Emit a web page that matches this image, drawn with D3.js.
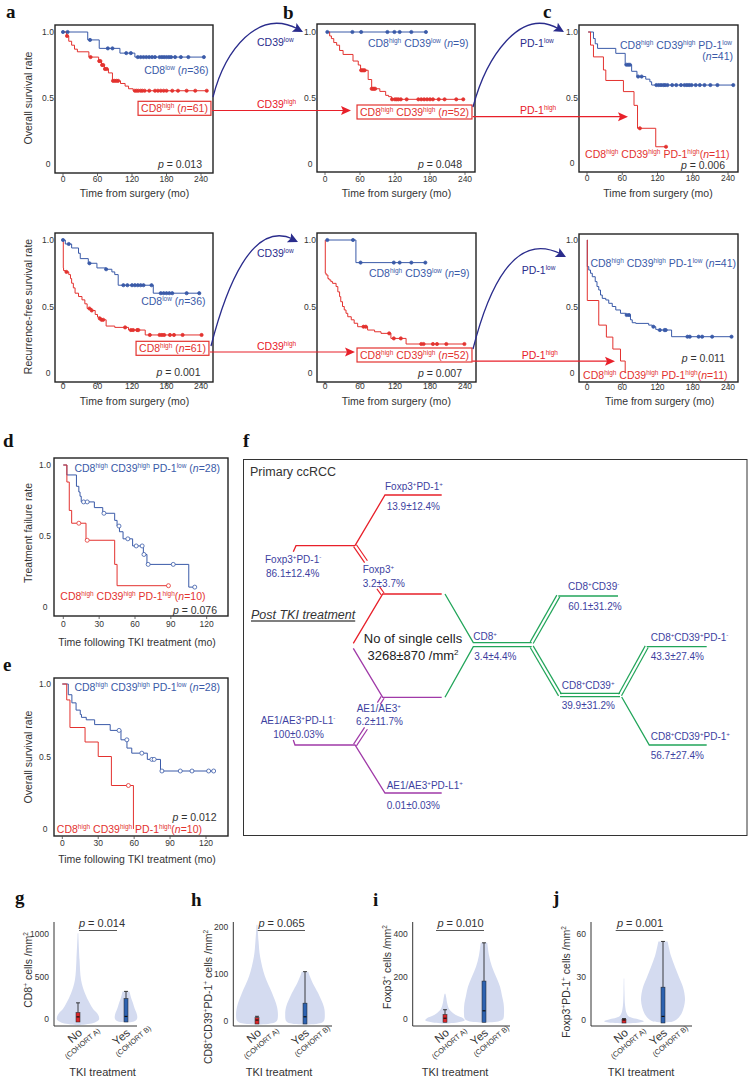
<!DOCTYPE html>
<html><head><meta charset="utf-8">
<script src="https://cdn.jsdelivr.net/npm/d3@7"></script>
<style>
body{margin:0;background:#fff}
svg{display:block}
text{font-family:Arial,"Liberation Sans",sans-serif}
</style></head>
<body><svg id="c" width="749" height="1077"></svg>
<script>
// ---------------- DATA ----------------
const kmTimeTicks = [0, 60, 120, 180, 240];
const tkiTimeTicks = [0, 30, 60, 90, 120];
const survTicks = [0, 0.5, 1];
const survTickLabels = ["0", "0.5", "1.0"];

// a (OS)
const osLow = [[0,1],[43,0.94],[63,0.876],[99,0.84],[125,0.81]];
const osLowEnd = 245;
const osLowCens = [0,8,47,78,86,110,118,130,135,140,145,150,155,160,168,172,176,180,184,188,195,205,218,245];
const osHigh = [[0,1],[6,0.97],[10,0.93],[15,0.90],[20,0.87],[25,0.85],[45,0.81],[62,0.78],[67,0.75],[72,0.72],[79,0.69],[86,0.63],[100,0.61],[108,0.59],[114,0.57],[122,0.555]];
const osHighEnd = 250;
const osHighCens = [7,48,63,65,68,70,73,76,87,90,93,96,125,128,131,135,138,142,150,160,165,170,175,180,190,200,215,230,250];
// b (OS)
const osB_low = [[4,1]];
const osB_lowEnd = 173;
const osB_lowCens = [4,47,62,107,119,128,148,173];
const osB_high = [[4,1],[8,0.97],[11,0.95],[15,0.92],[20,0.90],[25,0.86],[31,0.83],[48,0.78],[57,0.75],[61,0.71],[74,0.64],[80,0.57],[94,0.55],[104,0.52],[109,0.51],[114,0.49]];
const osB_highEnd = 237;
const osB_highCens = [62,64,66,68,80,82,84,86,115,120,123,126,130,140,160,165,170,175,180,185,195,205,225,237];
// c (OS)
const osC_low = [[2,1],[11,0.95],[14,0.91],[18,0.875],[49,0.837],[65,0.75],[76,0.70],[85,0.66],[100,0.64],[107,0.62],[110,0.595]];
const osC_lowEnd = 249;
const osC_lowCens = [67,70,73,87,93,118,122,126,130,133,137,145,152,160,166,170,174,178,185,192,200,210,222,249];
const osC_high = [[2,1],[6,0.90],[11,0.81],[28,0.71],[32,0.63],[62,0.545],[80,0.44],[86,0.265],[117,0.124]];
const osC_highEnd = 134.5;
const osC_highCens = [90,134.5];
// a (RFS)
const rfsLow = [[0,1],[4,0.97],[15,0.94],[27,0.90],[30,0.86],[44,0.825],[59,0.79],[75,0.78],[85,0.76],[90,0.74],[96,0.66],[157,0.60]];
const rfsLowEnd = 237;
const rfsLowCens = [0,10,46,75,105,112,120,125,130,135,140,154,170,175,180,185,190,215,237];
const rfsHigh = [[0,1],[0.5,0.79],[1,0.77],[4,0.76],[10,0.74],[13,0.71],[15,0.675],[18,0.64],[21,0.60],[27,0.575],[33,0.55],[38,0.52],[42,0.485],[50,0.47],[56,0.44],[60,0.42],[64,0.41],[67,0.40],[75,0.353],[90,0.343],[114,0.323],[143,0.286]];
const rfsHighEnd = 241;
const rfsHighCens = [6,46,50,64,67,70,108,118,122,129,131,151,168,172,176,186,193,208,241];
// b (RFS)
const rfsB_low = [[4,1],[53,0.83]];
const rfsB_lowEnd = 172;
const rfsB_lowCens = [4,48,61,118,128,148,172];
const rfsB_high = [[0,1],[0.5,0.75],[2,0.737],[5,0.71],[7,0.70],[10,0.687],[13,0.674],[19,0.65],[22,0.61],[25,0.574],[27,0.536],[30,0.50],[33,0.474],[36,0.449],[39,0.423],[45,0.40],[50,0.374],[56,0.348],[73,0.323],[85,0.31],[96,0.298],[113,0.26],[139,0.218]];
const rfsB_highEnd = 239;
const rfsB_highCens = [66,70,110,118,130,165,169,185,192,208,239];
// c (RFS)
const rfsC_low = [[0,1],[0.5,0.80],[3,0.774],[6,0.75],[9,0.724],[14,0.687],[17,0.65],[20,0.624],[23,0.586],[26,0.561],[32,0.549],[37,0.524],[43,0.50],[49,0.474],[57,0.449],[66,0.436],[74,0.40],[77,0.378],[83,0.373],[105,0.36],[111,0.348],[117,0.328],[120,0.323],[144,0.273]];
const rfsC_lowEnd = 246;
const rfsC_lowCens = [67.5,71.5,113,124,132,134,171,175,190,196,213,246];
const rfsC_high = [[0,1],[0.5,0.545],[20,0.36],[33,0.27],[44,0.18],[57,0.09],[65,0]];
const rfsC_highEnd = 65;
const rfsC_highCens = [];
// d (treatment failure)
const tfLow = [[0,1],[3,0.93],[11,0.85],[13,0.81],[14,0.78],[15,0.74],[26,0.70],[33,0.66],[43,0.61],[45,0.57],[47,0.53],[50,0.48],[58,0.43],[67,0.37],[70,0.30],[105,0.14]];
const tfLowEnd = 110;
const tfLowCens = [17,20,34,46.6,54,61,66,67.5,71,92,110];
const tfHigh = [[0,1],[3,0.88],[5,0.68],[7,0.59],[19,0.47],[43,0.30],[45,0.15]];
const tfHighEnd = 88;
const tfHighCens = [13,20,88];
// e (OS after TKI)
const tkiOsLow = [[0,1],[5,0.926],[8,0.87],[11.5,0.82],[15,0.79],[16,0.77],[20,0.753],[27,0.72],[40,0.68],[49,0.615],[54,0.558],[58,0.523],[71,0.48],[82,0.40]];
const tkiOsLowEnd = 126.4;
const tkiOsLowCens = [47.4,53.9,66.4,74.8,76.7,83.2,98.5,108.3,122.2,126.4];
const tkiOsHigh = [[0,1],[3.7,0.89],[6.4,0.70],[19,0.60],[30,0.50],[41,0.30],[59.4,0]];
const tkiOsHighEnd = 59.4;
const tkiOsHighCens = [55.2];

// f diagram texts
const fNames = ["Foxp3^+^PD-1^+^","Foxp3^+^PD-1^-^","Foxp3^+^","CD8^+^","CD8^+^CD39^-^","CD8^+^CD39^+^","CD8^+^CD39^+^PD-1^-^","CD8^+^CD39^+^PD-1^+^","AE1/AE3^+^","AE1/AE3^+^PD-L1^-^","AE1/AE3^+^PD-L1^+^"];
const fValues = ["13.9±12.4%","86.1±12.4%","3.2±3.7%","3.4±4.4%","60.1±31.2%","39.9±31.2%","43.3±27.4%","56.7±27.4%","6.2±11.7%","100±0.03%","0.01±0.03%"];
const fCenter = ["No of single cells","3268±870 /mm^2^"];

// violins: profiles [value, relative density], boxes [min,q1,median,q3,max]
const gTicks = [0,500,1000];
const gNoProf = [[-75,0],[-60,0.45],[-40,0.77],[-10,0.95],[30,0.95],[70,0.86],[120,0.68],[190,0.52],[300,0.32],[460,0.14],[700,0.07],[1010,0.015]];
const gYesProf = [[-40,0],[-30,0.36],[0,0.5],[50,0.5],[100,0.43],[150,0.36],[200,0.3],[250,0.23],[300,0.18],[325,0.16]];
const gNoBox = [0,0,25,75,190];
const gYesBox = [0,0,30,240,325];
const hTicks = [0,100,200];
const hNoProf = [[-8,0],[-5,0.68],[0,0.9],[10,0.95],[30,0.91],[60,0.68],[95,0.36],[137,0.14],[170,0.07],[205,0.02]];
const hYesProf = [[-8,0],[-5,0.68],[0,0.86],[15,0.9],[30,0.86],[60,0.59],[80,0.36],[100,0.18],[105,0.15]];
const hNoBox = [0,0,2,7,10];
const hYesBox = [0,0,9,38,105];
const iTicks = [0,200,400];
const iNoProf = [[-20,0],[-15,0.55],[-5,0.9],[5,0.82],[15,0.59],[30,0.36],[50,0.18],[80,0.09],[100,0.06],[120,0.02]];
const iYesProf = [[-15,0],[-10,0.64],[0,0.86],[30,0.91],[75,0.89],[110,0.82],[153,0.73],[200,0.55],[248,0.36],[300,0.23],[360,0.15]];
const iNoBox = [0,0,5,22,45];
const iYesBox = [0,0,40,180,360];
const jTicks = [0,30,60];
const jNoProf = [[-2.5,0],[-1.8,0.7],[-0.8,0.9],[0.5,0.64],[1.5,0.36],[3,0.18],[5,0.11],[10,0.05],[20,0.02],[29,0.01]];
const jYesProf = [[-1.5,0],[-1,0.45],[2,0.73],[5,0.86],[14,1.0],[23,0.91],[30,0.73],[37,0.55],[45,0.36],[55,0.21]];
const jNoBox = [0,0,0,0.5,1];
const jYesBox = [0,0,2.5,23,55];
const violinCats = ["No","Yes"];
const violinCohorts = ["(COHORT A)","(COHORT B)"];
const violinP = ["*p* = 0.014","*p* = 0.065","*p* = 0.010","*p* = 0.001"];

// ---------------- HELPERS ----------------
const BLUE="#3a5aa8", RED="#e3322f", NAVY="#2a2c8c", ARED="#e8202a";
const TXT="#3d3f9f", FRED="#e8202a", FGRN="#22a55a", FPUR="#a03aa8";
const svg = d3.select("#c");

function rich(parent, x, y, str, o = {}) {
  const fs = o.size || 10.5;
  const t = parent.append("text").attr("x", x).attr("y", y + fs * 0.35)
    .attr("font-size", fs).attr("fill", o.fill || "#222")
    .attr("text-anchor", o.anchor || "start");
  if (o.style) t.attr("font-style", o.style);
  if (o.weight) t.attr("font-weight", o.weight);
  if (o.deco) t.attr("text-decoration", o.deco);
  if (o.family) t.style("font-family", o.family);
  if (o.rotate != null) t.attr("transform", `rotate(${o.rotate},${x},${y})`);
  const parts = str.split(/(\^[^^]*\^|\*[^*]*\*)/).filter(s => s.length);
  let cur = 0;
  const sh = fs * 0.38;
  parts.forEach(p => {
    const ts = t.append("tspan");
    if (p.length > 1 && p[0] === "^" && p.endsWith("^")) {
      ts.text(p.slice(1, -1)).attr("font-size", fs * 0.62);
      if (-sh - cur !== 0) ts.attr("dy", -sh - cur);
      cur = -sh;
    } else {
      let s = p;
      if (p.length > 1 && p[0] === "*" && p.endsWith("*")) { s = p.slice(1, -1); ts.attr("font-style", "italic"); }
      ts.text(s);
      if (cur !== 0) ts.attr("dy", -cur);
      cur = 0;
    }
  });
  return t;
}

function survAt(steps, t) {
  let s = steps[0][1];
  for (const [tt, ss] of steps) if (tt <= t) s = ss;
  return s;
}
function kmPath(xs, ys, steps, end) {
  const pts = steps.concat([[end, steps[steps.length - 1][1]]]);
  return d3.line().x(d => xs(d[0])).y(d => ys(d[1])).curve(d3.curveStepAfter)(pts);
}

// ---------------- KM PANELS ----------------
const kmPanels = [
  {frame:[55,25,213,173], xr:[63,201], yr:[164,32], xdom:[0,240], ticks:kmTimeTicks, tickY:178.5, title:"Time from surgery (mo)", titleX:134.5, titleY:193,
   yTitle:"Overall survival rate", yTitleY:98,
   series:[{s:osLow,e:osLowEnd,c:osLowCens,col:BLUE},{s:osHigh,e:osHighEnd,c:osHighCens,col:RED}],
   texts:[{t:"CD8^low^ (*n*=36)",x:208.5,y:70,a:"end",col:BLUE},{t:"CD8^high^ (*n*=61)",x:174.5,y:108.3,a:"middle",col:RED,box:true},{t:"*p* = 0.013",x:202,y:164.3,a:"end",col:"#333"}]},
  {frame:[317,24,475,172], xr:[325,465], yr:[164,32], xdom:[0,240], ticks:kmTimeTicks, tickY:178.5, title:"Time from surgery (mo)", titleX:396.5, titleY:193,
   series:[{s:osB_low,e:osB_lowEnd,c:osB_lowCens,col:BLUE},{s:osB_high,e:osB_highEnd,c:osB_highCens,col:RED}],
   texts:[{t:"CD8^high^ CD39^low^ (*n*=9)",x:468.5,y:43.5,a:"end",col:BLUE},{t:"CD8^high^ CD39^high^ (*n*=52)",x:414.5,y:112,a:"middle",col:RED,box:true},{t:"*p* = 0.048",x:462,y:164.3,a:"end",col:"#333"}]},
  {frame:[579,25,738,172], xr:[587,728], yr:[163,32], xdom:[0,240], ticks:kmTimeTicks, tickY:178, title:"Time from surgery (mo)", titleX:658, titleY:193,
   series:[{s:osC_low,e:osC_lowEnd,c:osC_lowCens,col:BLUE},{s:osC_high,e:osC_highEnd,c:osC_highCens,col:RED}],
   texts:[{t:"CD8^high^ CD39^high^ PD-1^low^",x:732,y:45,a:"end",col:BLUE},{t:"(*n*=41)",x:733,y:56.5,a:"end",col:BLUE},{t:"CD8^high^ CD39^high^ PD-1^high^(*n*=11)",x:729.5,y:154.3,a:"end",col:RED},{t:"*p* = 0.006",x:725,y:165,a:"end",col:"#333"}]},
  {frame:[55,233,213,382], xr:[63,201], yr:[373,240], xdom:[0,240], ticks:kmTimeTicks, tickY:386, title:"Time from surgery (mo)", titleX:134.5, titleY:401.7,
   yTitle:"Recurrence-free survival rate", yTitleY:306.5,
   series:[{s:rfsLow,e:rfsLowEnd,c:rfsLowCens,col:BLUE},{s:rfsHigh,e:rfsHighEnd,c:rfsHighCens,col:RED}],
   texts:[{t:"CD8^low^ (*n*=36)",x:205.5,y:301.7,a:"end",col:BLUE},{t:"CD8^high^ (*n*=61)",x:172.5,y:348.3,a:"middle",col:RED,box:true},{t:"*p* = 0.001",x:200.5,y:372.7,a:"end",col:"#333"}]},
  {frame:[317,233,476,382], xr:[325,465], yr:[373,240], xdom:[0,240], ticks:kmTimeTicks, tickY:386, title:"Time from surgery (mo)", titleX:396.3, titleY:401.7,
   series:[{s:rfsB_low,e:rfsB_lowEnd,c:rfsB_lowCens,col:BLUE},{s:rfsB_high,e:rfsB_highEnd,c:rfsB_highCens,col:RED}],
   texts:[{t:"CD8^high^ CD39^low^ (*n*=9)",x:469.5,y:273.3,a:"end",col:BLUE},{t:"CD8^high^ CD39^high^ (*n*=52)",x:414.5,y:355,a:"middle",col:RED,box:true},{t:"*p* = 0.007",x:462,y:373.3,a:"end",col:"#333"}]},
  {frame:[579,234,738,382], xr:[587,728], yr:[373,240], xdom:[0,240], ticks:kmTimeTicks, tickY:387, title:"Time from surgery (mo)", titleX:659.7, titleY:401.7,
   series:[{s:rfsC_low,e:rfsC_lowEnd,c:rfsC_lowCens,col:BLUE},{s:rfsC_high,e:rfsC_highEnd,c:rfsC_highCens,col:RED}],
   texts:[{t:"CD8^high^ CD39^high^ PD-1^low^ (*n*=41)",x:736,y:263.3,a:"end",col:BLUE},{t:"*p* = 0.011",x:725,y:358.3,a:"end",col:"#333"},{t:"CD8^high^ CD39^high^ PD-1^high^(*n*=11)",x:727.5,y:375,a:"end",col:RED}]},
  {frame:[54,458,228,616], xr:[63.3,206.7], yr:[607,465], xdom:[0,120], ticks:tkiTimeTicks, tickY:624, title:"Time following TKI treatment (mo)", titleX:137, titleY:642, open:true, yLabX:45,
   yTitle:"Treatment failure rate", yTitleY:533,
   series:[{s:tfLow,e:tfLowEnd,c:tfLowCens,col:BLUE},{s:tfHigh,e:tfHighEnd,c:tfHighCens,col:RED}],
   texts:[{t:"CD8^high^ CD39^high^ PD-1^low^ (*n*=28)",x:220,y:468.5,a:"end",col:BLUE},{t:"CD8^high^ CD39^high^ PD-1^high^(*n*=10)",x:205.5,y:596.7,a:"end",col:RED},{t:"*p* = 0.076",x:217,y:610,a:"end",col:"#333"}]},
  {frame:[54,678,228,836], xr:[62.3,206], yr:[829,684], xdom:[0,120], ticks:tkiTimeTicks, tickY:843, title:"Time following TKI treatment (mo)", titleX:137, titleY:859.3, open:true, yLabX:45,
   yTitle:"Overall survival rate", yTitleY:757,
   series:[{s:tkiOsLow,e:tkiOsLowEnd,c:tkiOsLowCens,col:BLUE},{s:tkiOsHigh,e:tkiOsHighEnd,c:tkiOsHighCens,col:RED}],
   texts:[{t:"CD8^high^ CD39^high^ PD-1^low^ (*n*=28)",x:220,y:687.7,a:"end",col:BLUE},{t:"*p* = 0.012",x:216.5,y:817.3,a:"end",col:"#333"},{t:"CD8^high^ CD39^high^ PD-1^high^(*n*=10)",x:202,y:829.3,a:"end",col:RED}]}
];

kmPanels.forEach(p => {
  const g = svg.append("g");
  const [fx0, fy0, fx1, fy1] = p.frame;
  const xs = d3.scaleLinear().domain(p.xdom).range(p.xr);
  const ys = d3.scaleLinear().domain([0, 1]).range(p.yr);
  p.series.forEach(s => {
    g.append("path").attr("d", kmPath(xs, ys, s.s, s.e)).attr("fill", "none")
      .attr("stroke", s.col).attr("stroke-width", 1);
  });
  p.series.forEach(s => {
    g.selectAll(null).data(s.c).join("circle")
      .attr("cx", d => xs(d)).attr("cy", d => ys(survAt(s.s, d)))
      .attr("r", p.open ? 2 : 1.6)
      .attr("fill", p.open ? "#fff" : s.col).attr("stroke", s.col).attr("stroke-width", 0.8);
  });
  g.append("rect").attr("x", fx0).attr("y", fy0).attr("width", fx1 - fx0).attr("height", fy1 - fy0)
    .attr("fill", "none").attr("stroke", "#222").attr("stroke-width", 1.4);
  p.ticks.forEach(t => {
    g.append("line").attr("x1", xs(t)).attr("x2", xs(t)).attr("y1", fy1).attr("y2", fy1 + 3).attr("stroke", "#444").attr("stroke-width", 0.8);
    g.append("text").attr("x", xs(t)).attr("y", p.tickY + 3).attr("font-size", 8.5).attr("fill", "#333").attr("text-anchor", "middle").text(t);
  });
  survTicks.forEach((t, i) => {
    g.append("text").attr("x", p.yLabX || fx0 - 7).attr("y", ys(t) + 3).attr("font-size", 8.5).attr("fill", "#333")
      .attr("text-anchor", "middle").text(survTickLabels[i]);
  });
  rich(g, p.titleX, p.titleY, p.title, {size: 10.5, anchor: "middle", fill: "#333"});
  if (p.yTitle) rich(g, 28, p.yTitleY, p.yTitle, {size: 10.5, anchor: "middle", fill: "#333", rotate: -90});
  p.texts.forEach(tx => {
    const t = rich(g, tx.x, tx.y, tx.t, {size: 10.5, anchor: tx.a, fill: tx.col});
    if (tx.box) {
      const bb = t.node().getBBox();
      g.insert("rect", () => t.node()).attr("x", bb.x - 3).attr("y", tx.y - 7).attr("width", bb.width + 6).attr("height", 14)
        .attr("fill", "#fff").attr("stroke", RED).attr("stroke-width", 1.2);
    }
  });
});

// ---------------- ARROWS between panels ----------------
function arrowHead(g, x, y, ang, col, len = 9, wid = 4.5) {
  const c = Math.cos(ang), s = Math.sin(ang);
  const bx = x - c * len, by = y - s * len;
  const pts = [[x, y], [bx - s * wid, by + c * wid], [bx + c * 2, by + s * 2], [bx + s * wid, by - c * wid]];
  g.append("path").attr("d", "M" + pts.map(p => p.join(",")).join("L") + "Z").attr("fill", col);
}
const ag = svg.append("g");
const curves = [
  {p:[[213,97],[225,50],[258,8],[302,31]]},
  {p:[[473,107],[486,58],[520,6],[563,31]]},
  {p:[[211,346],[226,288],[252,220],[297,241]]},
  {p:[[473,349],[488,290],[514,230],[565,256]]}
];
curves.forEach(cv => {
  const [a, b, c, d] = cv.p;
  const path = d3.path(); path.moveTo(a[0], a[1]); path.bezierCurveTo(b[0], b[1], c[0], c[1], d[0] - 4, d[1] - 2);
  ag.append("path").attr("d", path.toString()).attr("fill", "none").attr("stroke", NAVY).attr("stroke-width", 1.3);
  arrowHead(ag, d[0] + 1, d[1] + 1, Math.atan2(d[1] - c[1], d[0] - c[0]), NAVY, 10, 5);
});
const straight = [[212,110.5,351],[472.7,116.7,628],[210,352,355],[472.3,361.2,615]];
straight.forEach(([x1, y, x2]) => {
  ag.append("line").attr("x1", x1).attr("x2", x2 - 6).attr("y1", y).attr("y2", y).attr("stroke", ARED).attr("stroke-width", 1.2);
  arrowHead(ag, x2, y, 0, ARED, 10, 4.5);
});
[["CD39^low^",257,42,NAVY],["CD39^high^",257,104.5,ARED],["PD-1^low^",520,43.5,NAVY],["PD-1^high^",520,110,ARED],
 ["CD39^low^",257,253.3,NAVY],["CD39^high^",257,346,ARED],["PD-1^low^",521.7,270,NAVY],["PD-1^high^",521.7,355.7,ARED]]
 .forEach(([s, x, y, c]) => rich(ag, x, y, s, {size: 10.5, fill: c}));

// ---------------- PANEL f ----------------
const fg = svg.append("g");
fg.append("rect").attr("x", 243.5).attr("y", 459.5).attr("width", 503.5).attr("height", 376)
  .attr("fill", "none").attr("stroke", "#333").attr("stroke-width", 1);
rich(fg, 250, 472, "Primary ccRCC", {size: 12.5, fill: "#333"});
rich(fg, 251, 615, "Post TKI treatment", {size: 12.5, fill: "#333", style: "italic", deco: "underline"});
rich(fg, 413, 638, fCenter[0], {size: 13, fill: "#222", anchor: "middle"});
rich(fg, 413, 655, fCenter[1], {size: 13, fill: "#222", anchor: "middle"});

const fLines = [
  {c:FRED, pts:[[293.3,551.7],[296,545.7],[355,545.7]]},
  {c:FRED, pts:[[355,545.7],[385,495],[441.7,495]]},
  {c:FRED, dbl:true, pts:[[355,545.7],[366,561.7]]},
  {c:FRED, dbl:true, pts:[[378.3,587.8],[382.7,594]]},
  {c:FRED, pts:[[441.7,594],[382.7,594],[353.3,643.3]]},
  {c:FPUR, pts:[[353.3,648.3],[382.7,697.3],[441.7,697.3]]},
  {c:FPUR, dbl:true, pts:[[382.7,697.3],[378.8,703.5]]},
  {c:FPUR, dbl:true, pts:[[366,728.3],[355,745]]},
  {c:FPUR, pts:[[293.3,740],[295,745],[355,745],[385,793],[441.7,793]]},
  {c:FGRN, pts:[[445,594],[473.3,642.7],[531.7,642.7]]},
  {c:FGRN, pts:[[445,697.3],[473.3,646.7],[531.7,646.7]]},
  {c:FGRN, dbl:true, pts:[[531.7,642.7],[558.3,596]]},
  {c:FGRN, pts:[[558.3,596],[618,596]]},
  {c:FGRN, dbl:true, pts:[[531.7,646.7],[560,695]]},
  {c:FGRN, dbl:true, pts:[[560,695],[620,695]]},
  {c:FGRN, dbl:true, pts:[[620,695],[646.7,646.7]]},
  {c:FGRN, pts:[[646.7,646.7],[706.7,646.7]]},
  {c:FGRN, pts:[[621.7,697],[649.3,745],[706.7,745]]}
];
const ln = d3.line();
fLines.forEach(L => {
  if (!L.dbl) {
    fg.append("path").attr("d", ln(L.pts)).attr("fill", "none").attr("stroke", L.c).attr("stroke-width", 1.3);
  } else {
    const [[x1, y1], [x2, y2]] = L.pts;
    const len = Math.hypot(x2 - x1, y2 - y1), nx = -(y2 - y1) / len * 1.7, ny = (x2 - x1) / len * 1.7;
    [1, -1].forEach(k => fg.append("path").attr("d", ln([[x1 + nx * k, y1 + ny * k], [x2 + nx * k, y2 + ny * k]]))
      .attr("fill", "none").attr("stroke", L.c).attr("stroke-width", 1.2));
  }
});
const fPos = [[385,486.7,386.7,506.7],[265,559,266,573],[362.7,569,362.7,583],[473.3,636,474.3,656],[568,586.7,568.3,606],
  [561.7,685,561.7,705],[650.7,637.3,650.7,656.7],[650.7,736,650.7,755],[356.7,708,356,721.7],[260.7,720,273.3,734],[386.7,785,386.7,805]];
fNames.forEach((n, i) => {
  const [x1, y1, x2, y2] = fPos[i];
  rich(fg, x1, y1, n, {size: 10, fill: TXT});
  rich(fg, x2, y2, fValues[i], {size: 10, fill: TXT});
});

// ---------------- VIOLINS ----------------
const violinPanels = [
  {axisX:54, top:922, bottom:1026, right:137, yr:[1019,934], dom:[0,1000], ticks:gTicks, cats:[78,126], pLine:[79,117], pX:102,
   prof:[gNoProf,gYesProf], box:[gNoBox,gYesBox], yTitle:"CD8^+^ cells /mm^2^", yTX:28, yTY:970, tkiX:102.5, p:violinP[0]},
  {axisX:233.3, top:922, bottom:1026, right:332, yr:[1021,927], dom:[0,200], ticks:hTicks, cats:[257,305], pLine:[257.7,305], pX:281.5,
   prof:[hNoProf,hYesProf], box:[hNoBox,hYesBox], yTitle:"CD8^+^CD39^+^PD-1^+^ cells /mm^2^", yTX:208, yTY:997, tkiX:279, p:violinP[1]},
  {axisX:412.7, top:922, bottom:1026, right:510, yr:[1019.3,934.3], dom:[0,400], ticks:iTicks, cats:[445,484], pLine:[436,484], pX:460.5,
   prof:[iNoProf,iYesProf], box:[iNoBox,iYesBox], yTitle:"Foxp3^+^ cells /mm^2^", yTX:387, yTY:967, tkiX:455, p:violinP[2]},
  {axisX:591, top:922, bottom:1026, right:692, yr:[1020,934.3], dom:[0,60], ticks:jTicks, cats:[624,663], pLine:[615.7,663.3], pX:640,
   prof:[jNoProf,jYesProf], box:[jNoBox,jYesBox], yTitle:"Foxp3^+^PD-1^+^ cells /mm^2^", yTX:566.5, yTY:982, tkiX:641, p:violinP[3]}
];
const BOXC = ["#d8262a", "#2d62b0"];
const ws = d3.scaleLinear().domain([0, 1]).range([0, 22]);
violinPanels.forEach(p => {
  const g = svg.append("g");
  const ys = d3.scaleLinear().domain(p.dom).range(p.yr);
  [0, 1].forEach(k => {
    const cx = p.cats[k];
    const area = d3.area().y(d => ys(d[0])).x0(d => cx - ws(d[1])).x1(d => cx + ws(d[1])).curve(d3.curveCatmullRom);
    g.append("path").attr("d", area(p.prof[k])).attr("fill", "#d4dbf0");
  });
  [0, 1].forEach(k => {
    const cx = p.cats[k], b = p.box[k];
    g.append("line").attr("x1", cx).attr("x2", cx).attr("y1", ys(b[0]) + 3).attr("y2", ys(b[4])).attr("stroke", "#111").attr("stroke-width", 0.8);
    g.append("line").attr("x1", cx - 2).attr("x2", cx + 2).attr("y1", ys(b[4])).attr("y2", ys(b[4])).attr("stroke", "#111").attr("stroke-width", 0.8);
    const yTop = ys(b[3]), yBot = ys(b[1]) + 3;
    g.append("rect").attr("x", cx - 2).attr("y", yTop).attr("width", 4).attr("height", Math.max(1.5, yBot - yTop))
      .attr("fill", BOXC[k]).attr("stroke", "#222").attr("stroke-width", 0.5);
    g.append("line").attr("x1", cx - 1.5).attr("x2", cx + 1.5).attr("y1", ys(b[2])).attr("y2", ys(b[2])).attr("stroke", "#111").attr("stroke-width", 1.2);
  });
  g.append("path").attr("d", d3.line()([[p.axisX, p.top], [p.axisX, p.bottom], [p.right, p.bottom]]))
    .attr("fill", "none").attr("stroke", "#333").attr("stroke-width", 1);
  p.ticks.forEach(t => {
    g.append("text").attr("x", p.axisX - 5).attr("y", ys(t) + 3).attr("font-size", 8.5).attr("fill", "#333").attr("text-anchor", "end").text(t);
  });
  g.append("line").attr("x1", p.pLine[0]).attr("x2", p.pLine[1]).attr("y1", 930.5).attr("y2", 930.5).attr("stroke", "#555").attr("stroke-width", 1);
  rich(g, p.pX, 923.5, p.p, {size: 11, anchor: "middle", fill: "#333"});
  [0, 1].forEach(k => {
    const cx = p.cats[k];
    const lg = g.append("g").attr("transform", `translate(${cx + 5},1034) rotate(-40)`);
    lg.append("text").attr("x", 0).attr("y", 0).attr("font-size", 11.5).attr("fill", "#333").attr("text-anchor", "end").text(violinCats[k]);
    lg.append("text").attr("x", k === 0 ? 15 : 19).attr("y", 9.5).attr("font-size", 7.4).attr("fill", "#333").attr("text-anchor", "end").text(violinCohorts[k]);
  });
  rich(g, p.tkiX, 1072, "TKI treatment", {size: 11, anchor: "middle", fill: "#333"});
  rich(g, p.yTX, p.yTY, p.yTitle, {size: 10.5, anchor: "middle", fill: "#333", rotate: -90});
});

// ---------------- PANEL LETTERS ----------------
[["a",6,18],["b",283,19],["c",543,18],["d",3,447],["f",243,447],["e",3,671],["g",15,904],["h",191,906],["i",373,906],["j",553,904]]
 .forEach(([l, x, y]) => svg.append("text").attr("x", x).attr("y", y).attr("font-size", 19).attr("font-weight", "bold")
   .style("font-family", "'Liberation Serif','Times New Roman',serif").attr("fill", "#111").text(l));
</script></body></html>
